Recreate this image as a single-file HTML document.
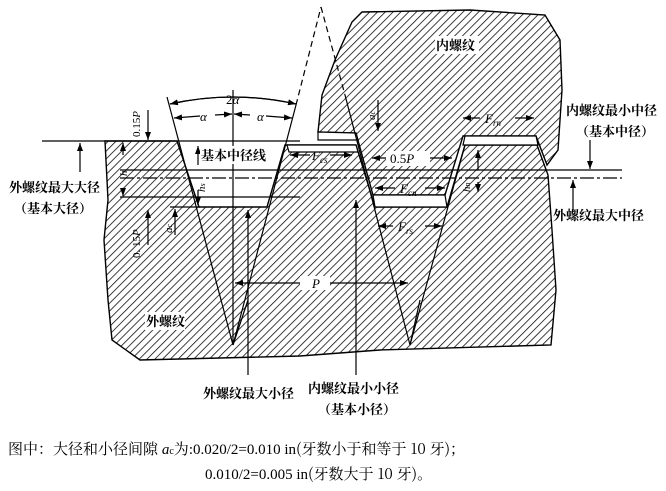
<!DOCTYPE html>
<html><head><meta charset="utf-8"><style>
html,body{margin:0;padding:0;background:#fff;}
svg{display:block;}
.t{font-family:"Liberation Serif","Noto Serif CJK SC","Noto Sans CJK SC",serif;fill:#000;}
.c{font-family:"Noto Serif CJK SC","Noto Sans CJK SC",serif;fill:#000;font-weight:bold;}
</style></head><body>
<svg width="666" height="491" viewBox="0 0 666 491" xmlns="http://www.w3.org/2000/svg">
<defs>
<pattern id="h" patternUnits="userSpaceOnUse" width="5.5" height="5.5" patternTransform="rotate(45)">
<line x1="0" y1="0" x2="0" y2="5.5" stroke="#000" stroke-width="1.5"/>
</pattern>
<marker id="a" markerWidth="8" markerHeight="6" refX="8" refY="3" orient="auto" markerUnits="userSpaceOnUse"><path d="M0,0 L8,3 L0,6z" fill="#000"/></marker>
</defs>
<g stroke="#000" stroke-width="1.4" fill="url(#h)">
<path d="M105,141 L177,141 L199,207 L267,207 L285,145 L356,145 L375,207 L447,207 L465,145 L537,145 L548,175 L552,230 L556,290 L551,345 L380,350 L300,356 L140,360 L112,340 L108,300 L104,240 L108,200 Z"/>
<path d="M318,132 L322,95 L335,60 L352,22 L362,12 L470,10 L545,15 L560,40 L562,90 L558,150 L547,165 L536,136 L463,136 L445,195 L373,195 L356,133 Z"/>
</g>
<g fill="#fff" stroke="#000" stroke-width="1.2">
<path d="M287,145 L356,145 L358,152 L289,152 Z"/>
<path d="M465,136 L536,136 L538,145 L463,145 Z"/>
<path d="M373,195 L445,195 L447,207 L375,207 Z"/>
<path d="M318,132 L356,133 L358,140 L318,140 Z"/>
</g>
<g stroke="#000" stroke-width="1.2" fill="none">
<line x1="167" y1="97" x2="233" y2="345"/>
<line x1="233" y1="345" x2="296" y2="105"/>
<line x1="296" y1="105" x2="321" y2="7" stroke-dasharray="6,4"/>
<line x1="321" y1="7" x2="345" y2="95" stroke-dasharray="6,4"/>
<line x1="345" y1="95" x2="410" y2="345"/>
<line x1="410" y1="345" x2="465" y2="145"/>
<line x1="233" y1="345" x2="248" y2="300"/>
<line x1="410" y1="345" x2="420" y2="300"/>
<line x1="42" y1="141" x2="300" y2="141"/>
<line x1="120" y1="170" x2="622" y2="170"/>
<line x1="120" y1="178" x2="622" y2="178" stroke-dasharray="14,3,3,3"/>
<line x1="120" y1="197" x2="300" y2="197"/>
<line x1="170" y1="207" x2="200" y2="207"/>
<line x1="233" y1="90" x2="233" y2="345"/>
<line x1="248" y1="375" x2="248" y2="210" marker-end="url(#a)"/>
<line x1="356" y1="375" x2="356" y2="200" marker-end="url(#a)"/>
<line x1="590" y1="140" x2="590" y2="169" marker-end="url(#a)"/>
<line x1="573" y1="212" x2="573" y2="180" marker-end="url(#a)"/>
<line x1="80" y1="172" x2="80" y2="143" marker-end="url(#a)"/>
<line x1="148" y1="110" x2="148" y2="140" marker-end="url(#a)"/>
<line x1="148" y1="245" x2="148" y2="210" marker-end="url(#a)"/>
<line x1="123" y1="155" x2="123" y2="143" marker-end="url(#a)"/>
<line x1="123" y1="190" x2="123" y2="196" marker-end="url(#a)"/>
<line x1="175" y1="235" x2="175" y2="209" marker-end="url(#a)"/>
<line x1="198" y1="165" x2="198" y2="146" marker-end="url(#a)"/>
<line x1="198" y1="190" x2="198" y2="205" marker-end="url(#a)"/>
<line x1="378" y1="100" x2="378" y2="131" marker-end="url(#a)"/>
<line x1="478" y1="170" x2="478" y2="150" marker-end="url(#a)"/>
<line x1="478" y1="182" x2="478" y2="192" marker-end="url(#a)"/>
<path d="M170,104 Q233,90 296,104" marker-end="url(#a)"/>
<path d="M296,104 Q233,90 170,104" marker-end="url(#a)"/>
<line x1="200" y1="116" x2="174" y2="118" marker-end="url(#a)"/>
<line x1="215" y1="115" x2="232" y2="114" marker-end="url(#a)"/>
<line x1="250" y1="115" x2="234" y2="114" marker-end="url(#a)"/>
<line x1="266" y1="116" x2="292" y2="118" marker-end="url(#a)"/>
<line x1="310" y1="155" x2="290" y2="155" marker-end="url(#a)"/>
<line x1="330" y1="155" x2="352" y2="155" marker-end="url(#a)"/>
<line x1="395" y1="158" x2="372" y2="158" marker-end="url(#a)"/>
<line x1="430" y1="158" x2="452" y2="158" marker-end="url(#a)"/>
<line x1="395" y1="188" x2="375" y2="188" marker-end="url(#a)"/>
<line x1="425" y1="188" x2="445" y2="188" marker-end="url(#a)"/>
<line x1="393" y1="226" x2="378" y2="226" marker-end="url(#a)"/>
<line x1="425" y1="226" x2="442" y2="226" marker-end="url(#a)"/>
<line x1="480" y1="118" x2="463" y2="118" marker-end="url(#a)"/>
<line x1="515" y1="118" x2="534" y2="118" marker-end="url(#a)"/>
<line x1="305" y1="283" x2="235" y2="283" marker-end="url(#a)"/>
<line x1="330" y1="283" x2="408" y2="283" marker-end="url(#a)"/>
</g>
<g fill="#fff">
<rect x="200" y="146" width="70" height="18"/>
<rect x="435" y="36" width="44" height="18"/>
<rect x="145" y="312" width="40" height="18"/>
<rect x="386" y="151" width="44" height="15"/>
<rect x="300" y="276" width="30" height="14"/>
</g>
<g class="c" font-size="13">
<text x="201" y="160">基本中径线</text>
<text x="436" y="50">内螺纹</text>
<text x="146" y="326">外螺纹</text>
<text x="9" y="192">外螺纹最大大径</text>
<text x="14" y="213">（基本大径）</text>
<text x="566" y="115">内螺纹最小中径</text>
<text x="576" y="136">（基本中径）</text>
<text x="553" y="220">外螺纹最大中径</text>
<text x="203" y="398">外螺纹最大小径</text>
<text x="308" y="393">内螺纹最小小径</text>
<text x="318" y="414">（基本小径）</text>
</g>
<g class="t" font-size="13" font-style="italic">
<text x="226" y="104" font-style="normal">2<tspan font-style="italic">α</tspan></text>
<text x="200" y="121">α</text>
<text x="257" y="121">α</text>
<text x="312" y="160">F<tspan font-size="9" dy="3">cs</tspan></text>
<text x="400" y="193">F<tspan font-size="9" dy="3">cn</tspan></text>
<text x="398" y="231">F<tspan font-size="9" dy="3">rs</tspan></text>
<text x="485" y="123">F<tspan font-size="9" dy="3">rn</tspan></text>
<text x="312" y="288">P</text>
<text x="390" y="163" font-style="normal">0.5<tspan font-style="italic">P</tspan></text>
</g>
<g class="t" font-size="11">
<text transform="translate(140,137) rotate(-90)">0.15<tspan font-style="italic">P</tspan></text>
<text transform="translate(140,258) rotate(-90)">0. 15<tspan font-style="italic">P</tspan></text>
<text transform="translate(127,176) rotate(-90)" font-style="italic">h</text>
<text transform="translate(205,192) rotate(-90)" font-style="italic">h<tspan font-size="8">s</tspan></text>
<text transform="translate(172,233) rotate(-90)" font-style="italic">a<tspan font-size="8">c</tspan></text>
<text transform="translate(375,120) rotate(-90)" font-style="italic">a<tspan font-size="8">c</tspan></text>
<text transform="translate(470,192) rotate(-90)" font-style="italic">h<tspan font-size="8">n</tspan></text>
</g>
<g class="t" font-size="15">
<text x="8" y="454"><tspan font-family="Noto Serif CJK SC,serif">图中：大径和小径间隙 </tspan><tspan font-style="italic">a</tspan><tspan font-size="10">c</tspan><tspan font-family="Noto Serif CJK SC,serif">为</tspan>:0.020/2=0.010 in<tspan font-family="Noto Serif CJK SC,serif">(牙数小于和等于 10 牙)；</tspan></text>
<text x="205" y="479">0.010/2=0.005 in<tspan font-family="Noto Serif CJK SC,serif">(牙数大于 10 牙)。</tspan></text>
</g>
</svg>
</body></html>
